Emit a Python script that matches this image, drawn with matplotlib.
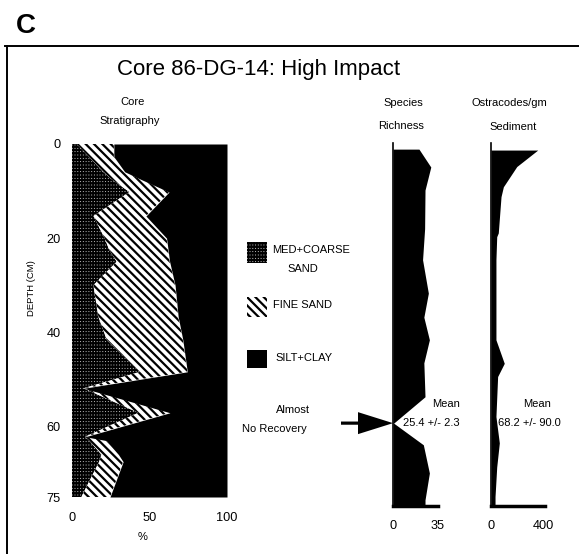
import numpy as np
import matplotlib
matplotlib.use("Agg")
import matplotlib.pyplot as plt
from matplotlib.patches import Rectangle, Polygon

plt.rcParams["font.family"] = ["Liberation Sans", "DejaVu Sans"]

# ---- Core stratigraphy: percent of each sediment class by depth (cm) ----
strat_depth = [0, 2.7, 5.9, 7.6, 10.2, 15.3, 20.0, 22.5, 25.0, 30.0, 36.7,
               41.6, 48.4, 51.9, 57.1, 62.2, 63.0, 66.0, 67.5, 75.0]
med_coarse_sand = [3, 11, 20, 26, 37, 13.8, 21, 24, 28.8, 13.8, 17,
                   22.4, 43.9, 7.3, 42.8, 8.4, 11, 19, 17.5, 6]
fine_sand = [24, 16, 14, 19, 25.6, 33.9, 40, 38, 34.2, 52.7, 51.5,
             49.1, 30.5, 0.2, 20.4, 0.2, 11, 11, 15.5, 18.5]
silt_clay = [73, 73, 66, 55, 37.4, 52.3, 39, 38, 37, 33.5, 31.5,
             28.5, 25.6, 92.5, 36.8, 91.4, 78, 70, 67, 75.5]

# ---- Species richness by depth ----
rich_depth = [1.1, 4.9, 9.8, 18.0, 24.6, 31.7, 36.8, 41.6, 46.5, 53.7,
              59.3, 63.9, 69.9, 75.6, 76.9]
rich_value = [20.2, 29.4, 24.9, 24.6, 23.0, 27.5, 24.0, 28.3, 24.0, 24.9,
              0.5, 23.6, 28.3, 24.9, 24.9]

# ---- Ostracodes per gram sediment by depth ----
ost_depth = [1.3, 4.8, 9.1, 11.2, 18.9, 19.7, 24.6, 41.6, 46.6, 49.4,
             57.9, 63.5, 68.6, 74.9, 76.9]
ost_value = [359, 198, 95, 77, 56, 44, 38, 38, 102, 51, 38, 64, 44, 31, 31]

strat_yticks = [0, 20, 40, 60, 75]
strat_xticks = [0, 50, 100]
rich_xticks = [0, 35]
ost_xticks = [0, 400]

rich_mean = "25.4 +/- 2.3"
ost_mean = "68.2 +/- 90.0"

W, H = 579, 554
fig = plt.figure(figsize=(W / 100, H / 100), dpi=100)

FINE_HATCH = "\\\\\\\\"


def frac(x0, y0, x1, y1):
    return [x0 / W, 1 - y1 / H, (x1 - x0) / W, (y1 - y0) / H]


def med_coarse_layers(make):
    """Black base with short white dashes (med+coarse sand symbol)."""
    with plt.rc_context({"hatch.linewidth": 0.55}):
        make(facecolor="black", edgecolor="white", hatch="-----")
    with plt.rc_context({"hatch.linewidth": 1.3}):
        make(facecolor="none", edgecolor="black", hatch="||||||")


# ---- Stratigraphy panel ----
ax_s = fig.add_axes(frac(72, 144, 227, 497))
d = np.array(strat_depth)
c1 = np.array(med_coarse_sand)
c2 = c1 + np.array(fine_sand)
c3 = c2 + np.array(silt_clay)
med_coarse_layers(lambda **kw: ax_s.fill_betweenx(d, 0, c1, linewidth=0, **kw))
with plt.rc_context({"hatch.linewidth": 1.6}):
    ax_s.fill_betweenx(d, c1, c2, facecolor="white", edgecolor="black",
                       hatch=FINE_HATCH, linewidth=0)
ax_s.fill_betweenx(d, c2, c3, facecolor="black", edgecolor="black",
                   linewidth=0)
ax_s.set_xlim(0, 100)
ax_s.set_ylim(75, 0)
ax_s.set_xticks(strat_xticks)
ax_s.set_yticks(strat_yticks)
ax_s.tick_params(length=0, labelsize=9.2)
ax_s.tick_params(axis="x", pad=11)
ax_s.tick_params(axis="y", pad=8)
for s in ax_s.spines.values():
    s.set_visible(False)

# ---- Species richness panel ----
ax_r = fig.add_axes(frac(393, 143, 438, 506))
ax_r.fill_betweenx(rich_depth, 0, rich_value, color="black", linewidth=0)
ax_r.set_xlim(0, 35)
ax_r.set_ylim(76.9, -0.2)
ax_r.set_xticks(rich_xticks)
ax_r.set_yticks([])
ax_r.tick_params(length=0, labelsize=9.2, pad=10)
ax_r.spines[["top", "right"]].set_visible(False)
ax_r.spines["left"].set_linewidth(1.2)
ax_r.spines["bottom"].set_linewidth(2.5)
ax_r.patch.set_alpha(0)

# arrow marking the interval with almost no recovery
arrow_depth = rich_depth[int(np.argmin(rich_value))]
px_x = 35 / 45.0          # data units per pixel (x)
px_y = 77.1 / 363.0       # data units per pixel (y)
head_len, head_half, tail_len, tail_half = 35, 11, 17, 1.6
arrow = Polygon([
    (-(head_len + tail_len) * px_x, arrow_depth - tail_half * px_y),
    (-head_len * px_x, arrow_depth - tail_half * px_y),
    (-head_len * px_x, arrow_depth - head_half * px_y),
    (0, arrow_depth),
    (-head_len * px_x, arrow_depth + head_half * px_y),
    (-head_len * px_x, arrow_depth + tail_half * px_y),
    (-(head_len + tail_len) * px_x, arrow_depth + tail_half * px_y),
], closed=True, facecolor="black", edgecolor="black", lw=0, clip_on=False)
ax_r.add_patch(arrow)

# ---- Ostracodes panel ----
ax_o = fig.add_axes(frac(491, 143, 545, 506))
ax_o.fill_betweenx(ost_depth, 0, ost_value, color="black", linewidth=0)
ax_o.set_xlim(0, 415)
ax_o.set_ylim(76.9, -0.2)
ax_o.set_xticks(ost_xticks)
ax_o.set_yticks([])
ax_o.tick_params(length=0, labelsize=9.2, pad=10)
ax_o.spines[["top", "right"]].set_visible(False)
ax_o.spines["left"].set_linewidth(1.2)
ax_o.spines["bottom"].set_linewidth(2.5)
ax_o.patch.set_alpha(0)

# ---- Overlay in pixel units for labels, legend and frame ----
ov = fig.add_axes([0, 0, 1, 1], zorder=5)
ov.set_xlim(0, W)
ov.set_ylim(H, 0)
ov.axis("off")

ov.plot([5, W], [46, 46], color="black", lw=1.4, clip_on=False)
ov.plot([7, 7], [46, H], color="black", lw=1.4, clip_on=False)

ov.text(26, 33, "C", fontsize=20, fontweight="bold", ha="center", va="baseline")
ov.text(259, 75, "Core 86-DG-14: High Impact", fontsize=16,
        ha="center", va="baseline")

small = 8.0
ov.text(133, 105, "Core", fontsize=small, ha="center", va="baseline")
ov.text(130, 124.5, "Stratigraphy", fontsize=small, ha="center", va="baseline")
ov.text(403, 106, "Species", fontsize=small, ha="center", va="baseline")
ov.text(401, 129, "Richness", fontsize=small, ha="center", va="baseline")
ov.text(509, 106.5, "Ostracodes/gm", fontsize=small, ha="center", va="baseline")
ov.text(513, 130, "Sediment", fontsize=small, ha="center", va="baseline")

ov.text(32, 288, "DEPTH (CM)", fontsize=6.8, rotation=90,
        ha="center", va="center")
ov.text(143, 537, "%", fontsize=small, ha="center", va="center")

# legend
lx, lw_ = 247, 20
med_coarse_layers(lambda **kw: ov.add_patch(
    Rectangle((lx, 242), lw_, 21, lw=0, **kw)))
with plt.rc_context({"hatch.linewidth": 1.6}):
    ov.add_patch(Rectangle((lx, 297), lw_, 20, facecolor="white",
                           edgecolor="black", hatch=FINE_HATCH, lw=0))
ov.add_patch(Rectangle((lx, 350), lw_, 18, facecolor="black",
                       edgecolor="black", lw=0))
ov.text(272, 250, "MED+COARSE", fontsize=small, ha="left", va="center")
ov.text(303, 269, "SAND", fontsize=small, ha="center", va="center")
ov.text(273, 305, "FINE SAND", fontsize=small, ha="left", va="center")
ov.text(275, 358, "SILT+CLAY", fontsize=small, ha="left", va="center")

ov.text(293, 410, "Almost", fontsize=8, ha="center", va="center")
ov.text(274, 429, "No Recovery", fontsize=8, ha="center", va="center")

ov.text(446, 404, "Mean", fontsize=small, ha="center", va="center")
ov.text(431, 423.5, rich_mean, fontsize=small, ha="center", va="center")
ov.text(537, 404, "Mean", fontsize=small, ha="center", va="center")
ov.text(529, 423, ost_mean, fontsize=small, ha="center", va="center")

fig.savefig("out.png", dpi=100)
